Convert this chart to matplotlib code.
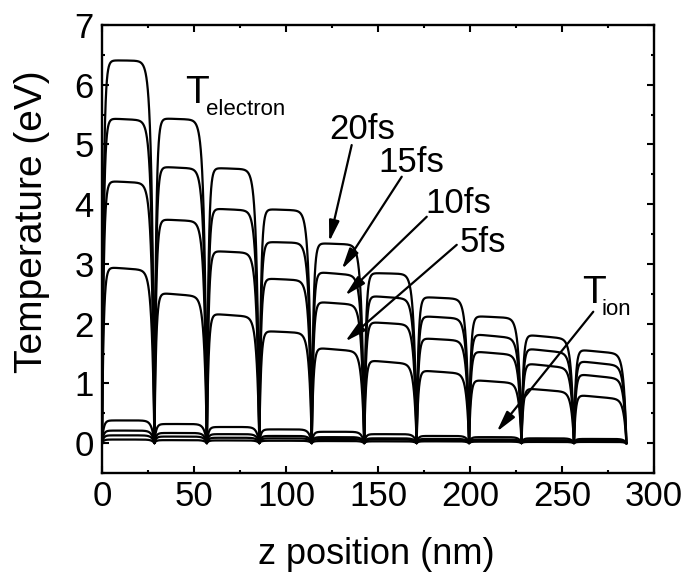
import numpy as np
import matplotlib
matplotlib.use("Agg")
import matplotlib.pyplot as plt

plt.rcParams["font.family"] = ["Liberation Sans", "DejaVu Sans"]

# Multilayer stack: 10 layers of equal thickness (nm)
layer_thickness = 28.5
n_layers = 10

times = ["20fs", "15fs", "10fs", "5fs"]

# Electron temperature (eV) at the start and end of each layer's plateau
te_start = {
    "20fs": [6.41, 5.44, 4.61, 3.92, 3.35, 2.85, 2.45, 2.13, 1.82, 1.57],
    "15fs": [5.44, 4.63, 3.93, 3.37, 2.87, 2.47, 2.13, 1.83, 1.59, 1.38],
    "10fs": [4.39, 3.75, 3.22, 2.76, 2.37, 2.03, 1.76, 1.54, 1.34, 1.16],
    "5fs":  [2.95, 2.52, 2.17, 1.88, 1.60, 1.39, 1.22, 1.06, 0.92, 0.81],
}
te_end = {
    "20fs": [6.40, 5.41, 4.58, 3.89, 3.32, 2.83, 2.41, 2.09, 1.74, 1.49],
    "15fs": [5.40, 4.59, 3.89, 3.35, 2.80, 2.41, 2.08, 1.75, 1.50, 1.29],
    "10fs": [4.35, 3.71, 3.18, 2.72, 2.31, 1.98, 1.71, 1.47, 1.25, 1.07],
    "5fs":  [2.89, 2.45, 2.11, 1.84, 1.53, 1.32, 1.16, 1.00, 0.85, 0.73],
}
# Ion temperature (eV) plateau of each layer
ti_level = {
    "20fs": [0.38, 0.32, 0.27, 0.23, 0.19, 0.15, 0.12, 0.10, 0.08, 0.07],
    "15fs": [0.21, 0.17, 0.15, 0.12, 0.10, 0.08, 0.07, 0.06, 0.05, 0.04],
    "10fs": [0.13, 0.11, 0.09, 0.08, 0.07, 0.06, 0.05, 0.04, 0.035, 0.03],
    "5fs":  [0.06, 0.05, 0.045, 0.04, 0.035, 0.03, 0.03, 0.025, 0.02, 0.02],
}

x_ticks = [0, 50, 100, 150, 200, 250, 300]
y_ticks = [0, 1, 2, 3, 4, 5, 6, 7]


def layer_profile(levels_a, levels_b):
    """Temperature across the stack: plateau per layer, rounded edges at interfaces."""
    xs, ys = [], []
    for i in range(n_layers):
        x0 = i * layer_thickness
        x1 = x0 + layer_thickness
        x = np.linspace(x0, x1, 600)
        u = x - x0
        v = x1 - x
        level = levels_a[i] + (levels_b[i] - levels_a[i]) * u / layer_thickness
        rise = 1 - np.exp(-u / 0.9)
        fall = 1 - np.exp(-v / 1.4)
        xs.append(x)
        ys.append(level * rise * fall)
    return np.concatenate(xs), np.concatenate(ys)


fig = plt.figure(figsize=(6.87, 5.76), dpi=100)
ax = fig.add_axes([102 / 687, 1 - 473 / 576, (654 - 102) / 687, (473 - 25) / 576])

for t in times:
    x, y = layer_profile(te_start[t], te_end[t])
    ax.plot(x, y, color="black", lw=1.6)
    x, y = layer_profile(ti_level[t], ti_level[t])
    ax.plot(x, y, color="black", lw=1.6)

ax.set_xlim(0, 300)
ax.set_ylim(-0.5, 7)
ax.set_xticks(x_ticks)
ax.set_yticks(y_ticks)
ax.set_xticks(np.arange(25, 300, 50), minor=True)
ax.set_yticks(np.arange(-0.5, 7, 1.0), minor=True)
ax.tick_params(which="both", direction="in", top=True, right=True, width=1.5)
ax.tick_params(which="major", length=5, labelsize=25)
ax.tick_params(which="minor", length=2.5)
ax.tick_params(axis="x", pad=5)
ax.tick_params(axis="y", pad=6)
for s in ax.spines.values():
    s.set_linewidth(1.7)

fig.text(32 / 687, 1 - 222 / 576, "Temperature (eV)", rotation=90,
         ha="center", va="center", fontsize=28)
fig.text(376 / 687, 1 - 554 / 576, "z position (nm)",
         ha="center", va="center", fontsize=26)

# Curve labels with arrows
arrow = dict(arrowstyle="-|>,head_length=0.9,head_width=0.22", lw=1.6,
             color="black", shrinkA=0, shrinkB=0, mutation_scale=14)
labels = [
    ("20fs", (123.4, 5.09), (135.7, 4.99), (123.5, 3.37)),
    ("15fs", (150.0, 4.54), (162.9, 4.46), (130.3, 2.91)),
    ("10fs", (175.5, 3.85), (176.5, 3.79), (132.1, 2.47)),
    ("5fs", (194.6, 3.20), (192.8, 3.32), (132.1, 1.70)),
]
for text, pos, start, tip in labels:
    ax.text(pos[0], pos[1], text, fontsize=25, ha="left", va="baseline")
    ax.annotate("", xy=tip, xytext=start, arrowprops=arrow)

ax.text(45.1, 5.70, "T", fontsize=28, ha="left", va="baseline")
ax.text(56.5, 5.49, "electron", fontsize=16, ha="left", va="baseline")

ax.text(260.7, 2.35, "T", fontsize=28, ha="left", va="baseline")
ax.text(271.6, 2.14, "ion", fontsize=16, ha="left", va="baseline")
ax.annotate("", xy=(214.5, 0.19), xytext=(267.0, 2.20), arrowprops=arrow)

fig.savefig("out.png", dpi=100)
